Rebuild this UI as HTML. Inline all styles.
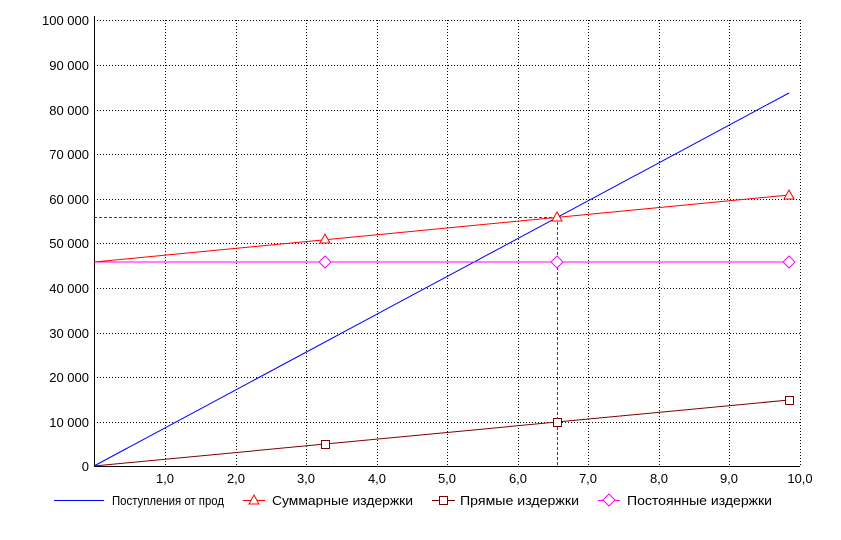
<!DOCTYPE html>
<html><head><meta charset="utf-8"><style>
body{margin:0;background:#fff}
svg text{font-family:"Liberation Sans",sans-serif;font-size:13px;fill:#000}
</style></head><body>
<svg width="841" height="535" xmlns="http://www.w3.org/2000/svg">
<g stroke="#000" stroke-dasharray="1,2" stroke-width="1">
<line x1="94" y1="20.5" x2="800" y2="20.5"/><line x1="94" y1="65.5" x2="800" y2="65.5"/>
<line x1="94" y1="110.5" x2="800" y2="110.5"/><line x1="94" y1="154.5" x2="800" y2="154.5"/>
<line x1="94" y1="199.5" x2="800" y2="199.5"/><line x1="94" y1="243.5" x2="800" y2="243.5"/>
<line x1="94" y1="288.5" x2="800" y2="288.5"/><line x1="94" y1="333.5" x2="800" y2="333.5"/>
<line x1="94" y1="377.5" x2="800" y2="377.5"/><line x1="94" y1="422.5" x2="800" y2="422.5"/>
<line x1="165.5" y1="20" x2="165.5" y2="466"/><line x1="236.5" y1="20" x2="236.5" y2="466"/>
<line x1="306.5" y1="20" x2="306.5" y2="466"/><line x1="377.5" y1="20" x2="377.5" y2="466"/>
<line x1="447.5" y1="20" x2="447.5" y2="466"/><line x1="518.5" y1="20" x2="518.5" y2="466"/>
<line x1="588.5" y1="20" x2="588.5" y2="466"/><line x1="659.5" y1="20" x2="659.5" y2="466"/>
<line x1="729.5" y1="20" x2="729.5" y2="466"/><line x1="800.5" y1="20" x2="800.5" y2="466"/>
</g>
<line x1="94.5" y1="16" x2="94.5" y2="467" stroke="#000"/>
<line x1="94" y1="466.5" x2="800" y2="466.5" stroke="#000"/>
<g text-anchor="end">
<text x="89" y="25">100 000</text><text x="89" y="70">90 000</text><text x="89" y="115">80 000</text>
<text x="89" y="159">70 000</text><text x="89" y="204">60 000</text><text x="89" y="248">50 000</text>
<text x="89" y="293">40 000</text><text x="89" y="338">30 000</text><text x="89" y="382">20 000</text>
<text x="89" y="427">10 000</text><text x="89" y="471">0</text>
</g>
<g text-anchor="middle">
<text x="165" y="483">1,0</text><text x="236" y="483">2,0</text><text x="306" y="483">3,0</text>
<text x="377" y="483">4,0</text><text x="447" y="483">5,0</text><text x="518" y="483">6,0</text>
<text x="588" y="483">7,0</text><text x="659" y="483">8,0</text><text x="729" y="483">9,0</text>
<text x="800" y="483">10,0</text>
</g>
<g stroke="#e00000" stroke-dasharray="3,2"><line x1="94" y1="217.5" x2="557" y2="217.5"/><line x1="557.5" y1="217" x2="557.5" y2="466"/></g>
<line x1="94" y1="466" x2="789" y2="93" stroke="#0000ff"/>
<line x1="94" y1="262" x2="789" y2="262" stroke="#ff00ff"/>
<line x1="94" y1="262" x2="789" y2="195" stroke="#ff0000"/>
<line x1="94" y1="466" x2="789" y2="400" stroke="#800000"/>
<g fill="#fff" stroke="#ff00ff"><path d="M325 256l6 6-6 6-6-6z"/><path d="M557 256l6 6-6 6-6-6z"/><path d="M789 256l6 6-6 6-6-6z"/></g>
<g fill="#fff" stroke="#ff0000"><path d="M325 234l5 9h-10z"/><path d="M557 212l5 9h-10z"/><path d="M789 190l5 9h-10z"/></g>
<g fill="#fff" stroke="#800000"><rect x="321.5" y="440.5" width="8" height="8"/><rect x="553.5" y="418.5" width="8" height="8"/><rect x="785.5" y="396.5" width="8" height="8"/></g>
<line x1="54" y1="500.5" x2="104" y2="500.5" stroke="#0000ff"/>
<text x="112" y="505" textLength="112" lengthAdjust="spacingAndGlyphs">Поступления от прод</text>
<line x1="243" y1="500.5" x2="265" y2="500.5" stroke="#ff0000"/><path d="M254 495l5 9h-10z" fill="#fff" stroke="#ff0000"/>
<text x="272" y="505" textLength="141" lengthAdjust="spacingAndGlyphs">Суммарные издержки</text>
<line x1="432" y1="500.5" x2="455" y2="500.5" stroke="#800000"/><rect x="439.5" y="496.5" width="8" height="8" fill="#fff" stroke="#800000"/>
<text x="460" y="505" textLength="119" lengthAdjust="spacingAndGlyphs">Прямые издержки</text>
<line x1="598" y1="500.5" x2="620" y2="500.5" stroke="#ff00ff"/><path d="M609 494l6 6-6 6-6-6z" fill="#fff" stroke="#ff00ff"/>
<text x="627" y="505" textLength="145" lengthAdjust="spacingAndGlyphs">Постоянные издержки</text>
</svg>
</body></html>
